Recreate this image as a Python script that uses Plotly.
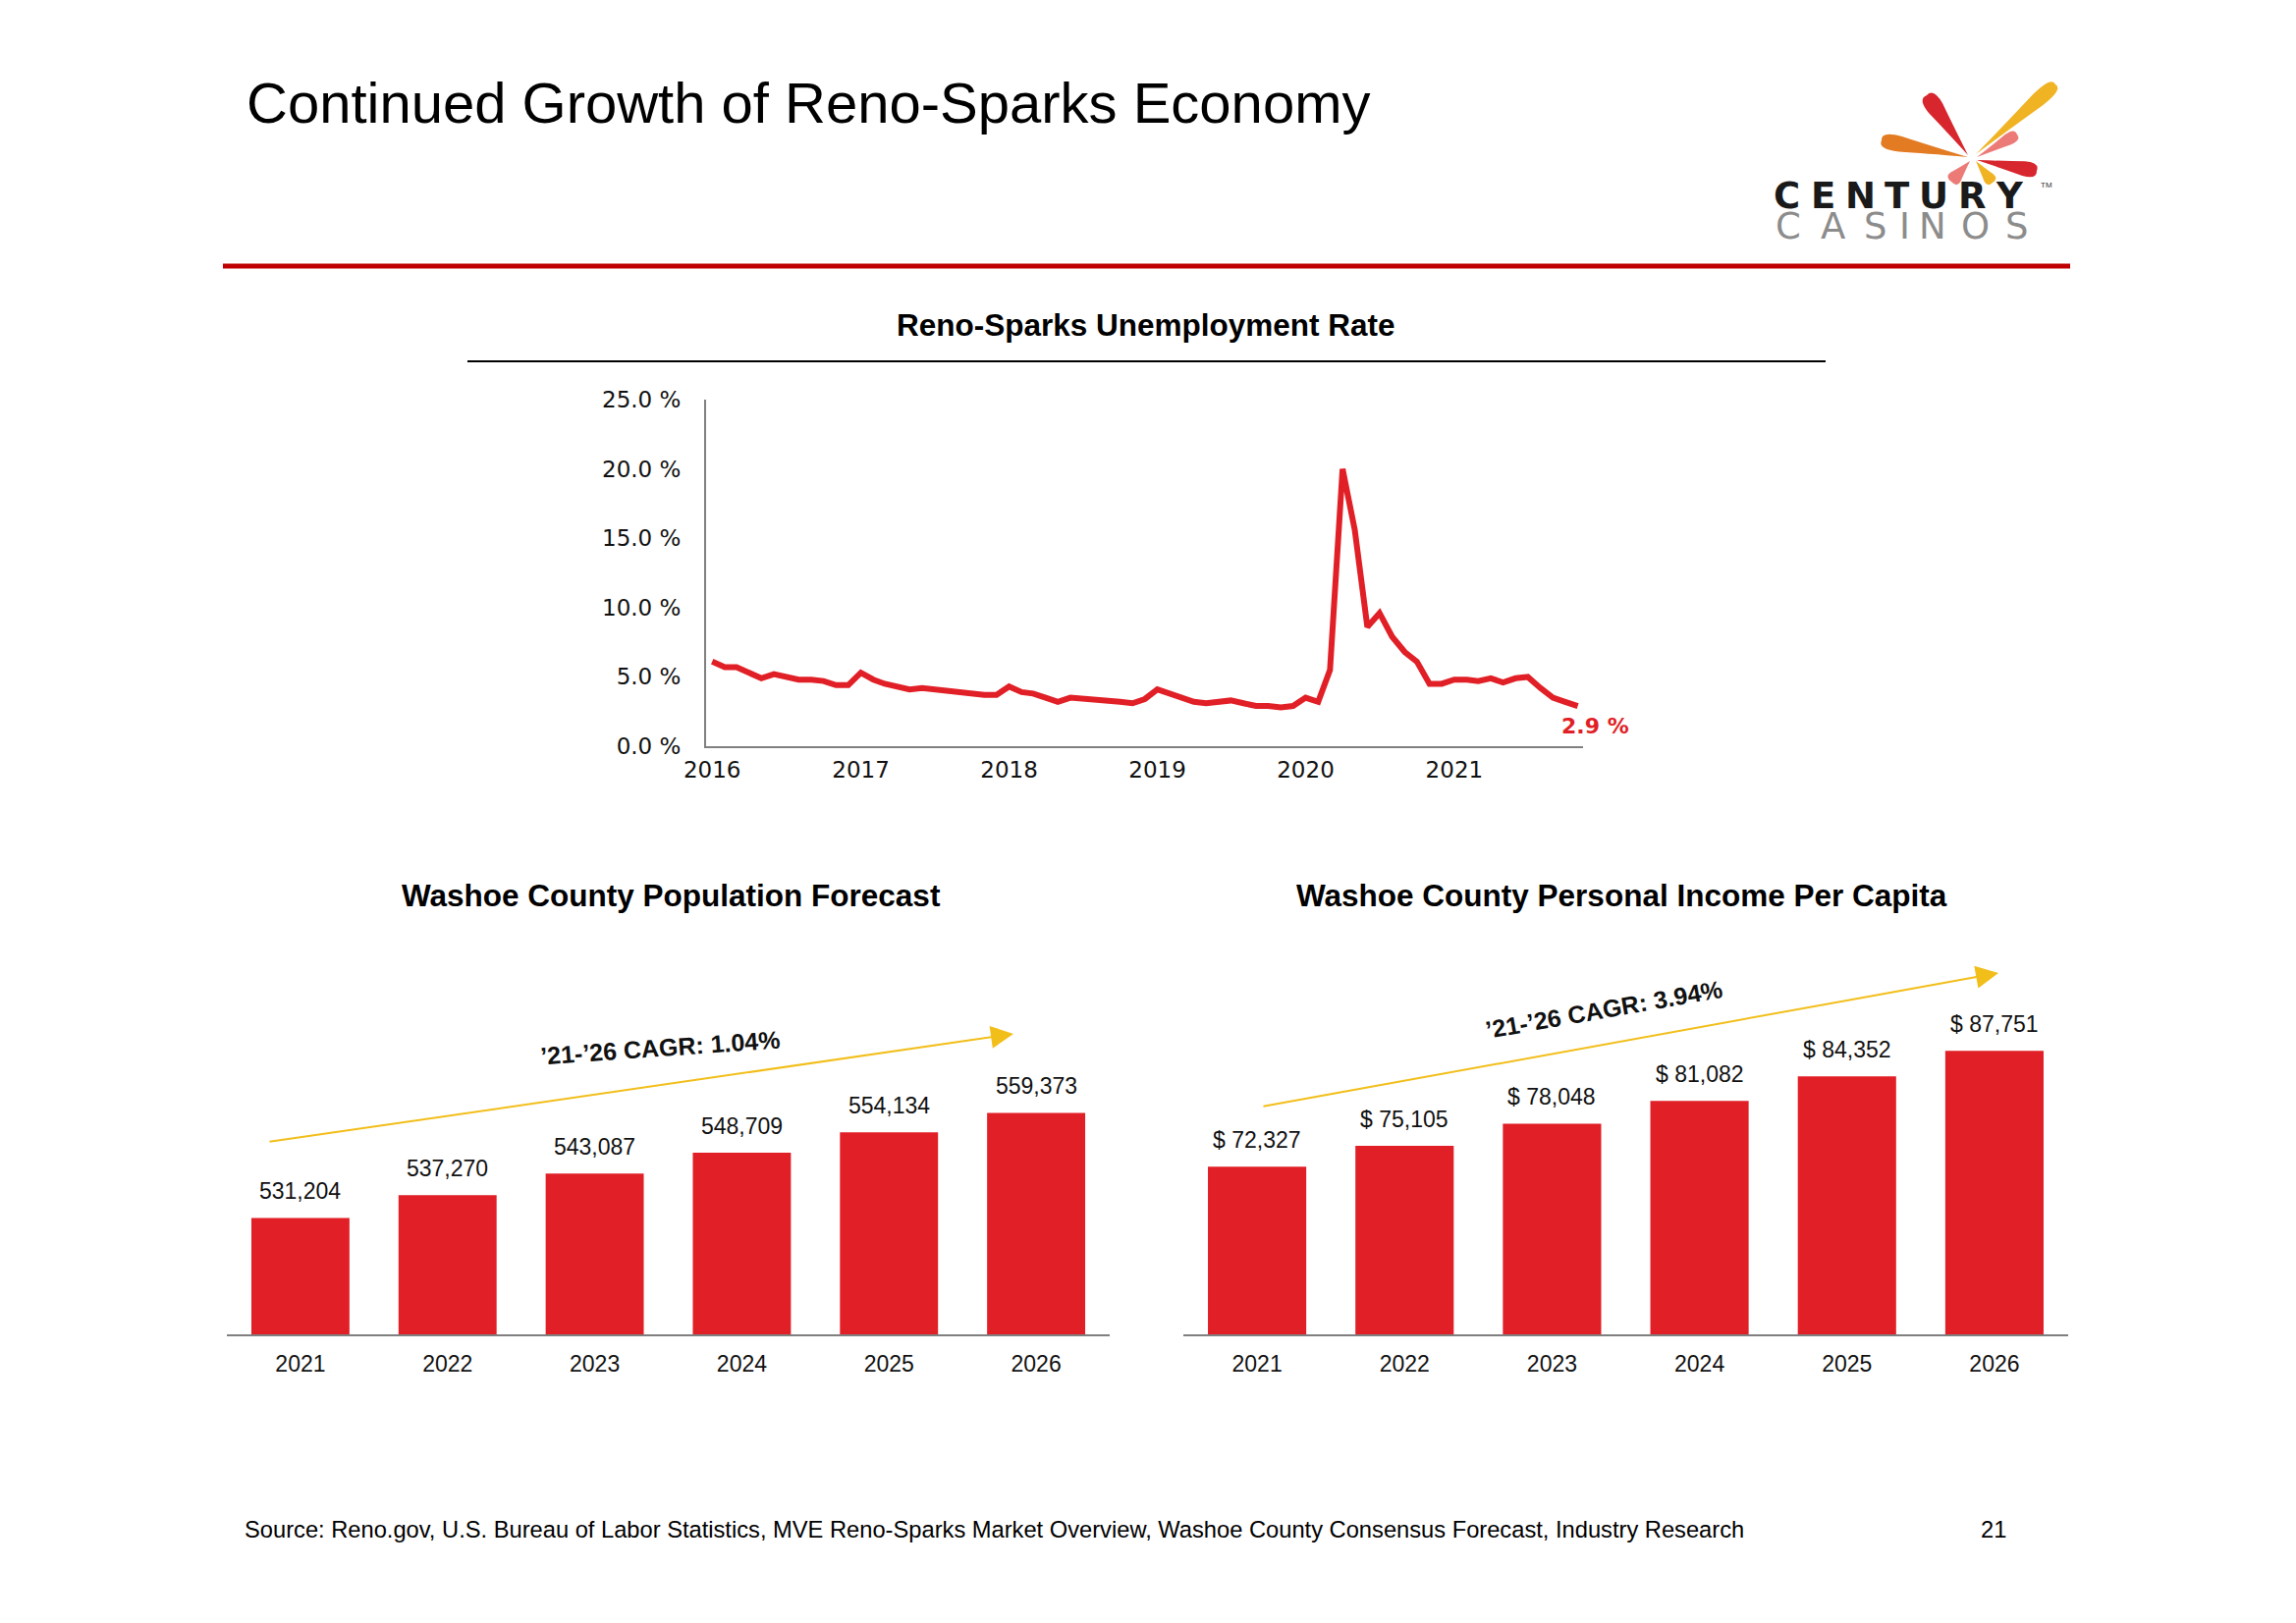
import math
import pandas as pd
import plotly.graph_objects as go

W, H = 2338, 1653
OFF = 8  # page body margin in the browser

# ---------------- data ----------------
months = pd.date_range("2016-01-01", "2021-11-01", freq="MS")
unemployment = [6.1, 5.7, 5.7, 5.3, 4.9, 5.2, 5.0, 4.8, 4.8, 4.7, 4.4, 4.4,
                5.3, 4.8, 4.5, 4.3, 4.1, 4.2, 4.1, 4.0, 3.8, 3.7, 3.7, 3.7,
                4.3, 3.9, 3.8, 3.5, 3.2, 3.5, 3.4, 3.4, 3.2, 3.2, 3.1, 3.4,
                4.1, 3.8, 3.6, 3.2, 3.1, 3.2, 3.3, 3.1, 2.9, 2.9, 2.8, 2.9,
                3.5, 3.2, 5.5, 20.0, 15.6, 8.6, 9.6, 7.9, 6.8, 6.1, 4.5, 4.5,
                4.8, 4.8, 4.7, 4.9, 4.6, 4.9, 5.0, 4.2, 3.5, 3.2, 2.9]
years = ["2021", "2022", "2023", "2024", "2025", "2026"]
population = [531204, 537270, 543087, 548709, 554134, 559373]
income = [72327, 75105, 78048, 81082, 84352, 87751]
pop_cagr = "’21-’26 CAGR: 1.04%"
inc_cagr = "’21-’26 CAGR: 3.94%"

RED = "#E11F26"
AX = "#808080"
ARIAL = "Liberation Sans, Arial, sans-serif"
WIDE = "DejaVu Sans, Verdana, sans-serif"


def px(x):
    return (x - OFF) / W


def py(y):
    return 1 - (y - OFF) / H


fig = go.Figure()

fig.add_trace(go.Scatter(x=months, y=unemployment, mode="lines",
                         line=dict(color=RED, width=6), xaxis="x", yaxis="y",
                         showlegend=False, hoverinfo="x+y"))
fig.add_trace(go.Bar(x=years, y=population, marker=dict(color=RED, line_width=0),
                     xaxis="x2", yaxis="y2", showlegend=False))
fig.add_trace(go.Bar(x=years, y=income, marker=dict(color=RED, line_width=0),
                     xaxis="x3", yaxis="y3", showlegend=False))

annotations = []
shapes = []


def note(x, y, text, size, family=ARIAL, color="#000", xa="center", ya="middle", **kw):
    d = dict(x=x, y=y, xref="paper", yref="paper", text=text, showarrow=False,
             xanchor=xa, yanchor=ya, font=dict(family=family, size=size, color=color))
    d.update(kw)
    annotations.append(d)


# bar value labels (category index positions)
for i, v in enumerate(population):
    annotations.append(dict(x=i, y=v, xref="x2", yref="y2", text=f"{v:,}",
                            showarrow=False, xanchor="center", yanchor="bottom", yshift=12,
                            font=dict(family=ARIAL, size=23, color="#111")))
for i, v in enumerate(income):
    annotations.append(dict(x=i, y=v, xref="x3", yref="y3", text=f"$ {v:,}",
                            showarrow=False, xanchor="center", yanchor="bottom", yshift=12,
                            font=dict(family=ARIAL, size=23, color="#111")))

# last value label on line
annotations.append(dict(x=months[-1], y=unemployment[-1], xref="x", yref="y",
                        text=f"{unemployment[-1]:.1f} %", showarrow=False,
                        xanchor="center", yanchor="middle", xshift=18, yshift=-20,
                        font=dict(family=WIDE, size=22, color=RED, weight="bold")))

# titles / footer
note(px(249), py(127), "Continued Growth of Reno-Sparks Economy", 58, xa="left", ya="bottom", yshift=-12)
note(px(1167), py(331), "<b>Reno-Sparks Unemployment Rate</b>", 31.5)
note(px(683), py(912), "<b>Washoe County Population Forecast</b>", 31.5)
note(px(1651), py(912), "<b>Washoe County Personal Income Per Capita</b>", 31.5)
note(px(247), py(1558), "Source: Reno.gov, U.S. Bureau of Labor Statistics, MVE Reno-Sparks Market Overview, "
     "Washoe County Consensus Forecast, Industry Research", 23.7, xa="left")
note(px(2030), py(1558), "21", 23.7)

# CAGR arrows + texts
GOLD = "#F2BE1A"
annotations += [
    dict(x=px(1032), y=py(1053), xref="paper", yref="paper", ax=273 - 1032, ay=1163 - 1053,
         axref="pixel", ayref="pixel", text="", showarrow=True, arrowhead=2,
         arrowsize=2.3, arrowwidth=2, arrowcolor=GOLD),
    dict(x=px(2035), y=py(991), xref="paper", yref="paper", ax=1285 - 2035, ay=1127 - 991,
         axref="pixel", ayref="pixel", text="", showarrow=True, arrowhead=2,
         arrowsize=2.3, arrowwidth=2, arrowcolor=GOLD),
]
note(px(672), py(1067), f"<b>{pop_cagr}</b>", 25, color="#111", textangle=-4)
note(px(1633), py(1028), f"<b>{inc_cagr}</b>", 25, color="#111", textangle=-10)

# header rule and subtitle rule
shapes += [
    dict(type="line", xref="paper", yref="paper", x0=px(227), x1=px(2108), y0=py(271), y1=py(271),
         line=dict(color="#C00000", width=5)),
    dict(type="line", xref="paper", yref="paper", x0=px(476), x1=px(1859), y0=py(368), y1=py(368),
         line=dict(color="#000", width=2)),
]


# ---------------- logo ----------------
def petal(c, t, w):
    cx, cy = c
    tx, ty = t
    dx, dy = tx - cx, ty - cy
    L = math.hypot(dx, dy)
    nx, ny = -dy / L, dx / L

    def P(a, b):
        X = cx + dx * a + nx * b
        Y = cy + dy * a + ny * b
        return f"{px(X):.5f},{py(Y):.5f}"

    return (f"M {P(0, 0)} Q {P(0.5, w * 0.3)} {P(0.78, w * 0.5)} "
            f"Q {P(1.03, w * 0.6)} {P(1, 0)} "
            f"Q {P(1.03, -w * 0.6)} {P(0.78, -w * 0.5)} "
            f"Q {P(0.5, -w * 0.3)} {P(0, 0)} Z")


petals = [
    ((2004, 158), (1962, 97), 17, "#D8262E"),
    ((2012, 157), (2093, 86), 15, "#F0B323"),
    ((2004, 160), (1916, 143), 16, "#E27B22"),
    ((2013, 160), (2054, 137), 12, "#EC7B78"),
    ((2013, 163), (2074, 174), 15, "#D8262E"),
    ((2006, 164), (1987, 185), 14, "#EC7B78"),
    ((2012, 164), (2029, 186), 12, "#F0B323"),
]
for c, t, w, col in petals:
    shapes.append(dict(type="path", xref="paper", yref="paper", path=petal(c, t, w),
                       fillcolor=col, line=dict(width=0), layer="above"))

logo_top = "CENTURY"
logo_top_x = [1819, 1857, 1894, 1932, 1969, 2008, 2046]
logo_bot = "CASINOS"
logo_bot_x = [1821, 1866, 1910, 1939, 1968, 2011, 2054]
for ch, x in zip(logo_top, logo_top_x):
    note(px(x), py(200), f"<b>{ch}</b>", 37, family=WIDE, color="#1a1a1a")
for ch, x in zip(logo_bot, logo_bot_x):
    note(px(x), py(230), ch, 37, family=WIDE, color="#8c8c8c")
note(px(2084), py(189), "TM", 8, color="#333")

# ---------------- axes ----------------
pop_ppu = 0.0038
inc_ppu = 0.00765
bar_top, bar_base = 1000, 1359

fig.update_layout(
    width=W, height=H, margin=dict(l=0, r=0, t=0, b=0, pad=0, autoexpand=False),
    paper_bgcolor="white", plot_bgcolor="white",
    bargap=1 / 3,
    xaxis=dict(domain=[px(719), px(1612)], anchor="y", type="date", automargin=False,
               range=["2015-12-17", "2021-11-14"], tick0="2016-01-01", dtick="M12",
               tickformat="%Y", showgrid=False, zeroline=False, showline=True,
               linecolor=AX, linewidth=2, ticks="", ticklabelstandoff=2,
               tickfont=dict(family=WIDE, size=23, color="#111")),
    yaxis=dict(domain=[py(760), py(407)], anchor="x", range=[0, 25], dtick=5, automargin=False,
               tickformat=".1f", ticksuffix=" %", showgrid=False, zeroline=False,
               showline=True, linecolor=AX, linewidth=2, ticks="", ticklabelstandoff=19,
               tickfont=dict(family=WIDE, size=23, color="#111")),
    xaxis2=dict(domain=[px(231), px(1130)], anchor="y2", type="category", range=[-0.5, 5.5],
                automargin=False, showgrid=False, showline=True, linecolor=AX, linewidth=2,
                ticks="", ticklabelstandoff=8, tickfont=dict(family=ARIAL, size=23, color="#111")),
    yaxis2=dict(domain=[py(bar_base), py(bar_top)], anchor="x2", automargin=False,
                range=[500000, 500000 + (bar_base - bar_top) / pop_ppu], visible=False),
    xaxis3=dict(domain=[px(1205), px(2106)], anchor="y3", type="category", range=[-0.5, 5.5],
                automargin=False, showgrid=False, showline=True, linecolor=AX, linewidth=2,
                ticks="", ticklabelstandoff=8, tickfont=dict(family=ARIAL, size=23, color="#111")),
    yaxis3=dict(domain=[py(bar_base), py(bar_top)], anchor="x3", automargin=False,
                range=[50000, 50000 + (bar_base - bar_top) / inc_ppu], visible=False),
    annotations=annotations,
    shapes=shapes,
)

fig.write_html("out.html")
